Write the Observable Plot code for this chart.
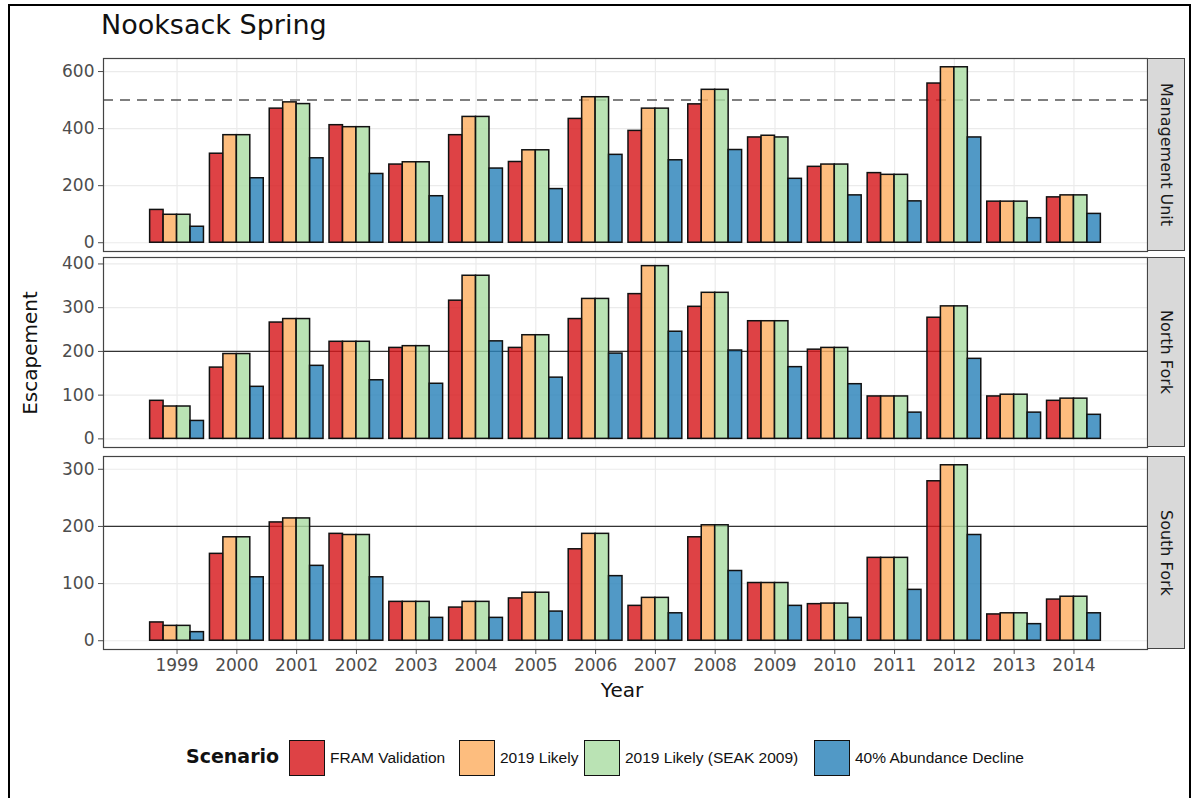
<!DOCTYPE html>
<html><head><meta charset="utf-8">
<script src="https://cdn.jsdelivr.net/npm/d3@7"></script>
<script src="https://cdn.jsdelivr.net/npm/@observablehq/plot@0.6"></script>
<style>
html,body{margin:0;padding:0;background:#fff;}
#root{position:relative;width:1193px;height:798px;overflow:hidden;font-family:"DejaVu Sans",sans-serif;}
#border{position:absolute;left:8px;top:4px;width:1183px;height:800px;border:2px solid #000;box-sizing:border-box;}
.abs{position:absolute;}
.strip{position:absolute;background:#d9d9d9;border:1px solid #444;box-sizing:border-box;display:flex;align-items:center;justify-content:center;}
.strip span{writing-mode:vertical-rl;font-size:16px;color:#1a1a1a;white-space:nowrap;}
.key{position:absolute;width:36px;height:36px;border:1.5px solid #111;box-sizing:border-box;}
.klab{position:absolute;font-family:"Liberation Sans",Arial,sans-serif;font-size:15.5px;color:#111;white-space:nowrap;line-height:36px;}
</style></head><body>
<div id="root">
  <div id="border"></div>
  <div class="abs" style="left:101px;top:9px;font-size:27px;color:#111;">Nooksack Spring</div>
  <div class="abs" style="left:30px;top:353px;transform:translate(-50%,-50%) rotate(-90deg);font-size:20px;color:#111;white-space:nowrap;">Escapement</div>
  <div class="abs" style="left:622px;top:690px;transform:translate(-50%,-50%);font-size:20px;color:#111;">Year</div>
</div>
<script>
const years = [1999,2000,2001,2002,2003,2004,2005,2006,2007,2008,2009,2010,2011,2012,2013,2014];
const scenarios = ["FRAM Validation","2019 Likely","2019 Likely (SEAK 2009)","40% Abundance Decline"];
const scenarioColors = ["#d7191c","#fdae61","#abdda4","#2b83ba"];
const panelNames = ["Management Unit","North Fork","South Fork"];

// Management Unit
const muFram    = [115,312,470,412,274,377,283,434,392,485,369,266,244,558,144,159];
const muLikely  = [98,377,492,405,282,441,324,510,470,536,375,274,238,615,144,166];
const muSeak    = [98,377,486,405,282,441,324,510,470,536,369,274,238,615,144,166];
const muDecline = [56,226,296,241,163,260,188,308,289,325,224,166,145,369,86,101];
// North Fork
const nfFram    = [87,163,266,222,208,316,208,274,331,302,269,204,97,277,97,87];
const nfLikely  = [74,194,274,222,212,373,237,320,395,334,269,208,97,303,101,92];
const nfSeak    = [74,194,274,222,212,373,237,320,395,334,269,208,97,303,101,92];
const nfDecline = [41,119,167,134,126,223,140,195,245,202,164,125,60,183,60,55];
// South Fork
const sfFram    = [32,152,207,187,68,58,74,160,61,181,101,64,145,279,46,72];
const sfLikely  = [26,181,214,185,68,68,84,187,75,202,101,65,145,307,48,77];
const sfSeak    = [26,181,214,185,68,68,84,187,75,202,101,65,145,307,48,77];
const sfDecline = [15,111,131,111,40,40,51,113,48,122,61,40,89,185,29,48];

const panelSeries = [
  [muFram, muLikely, muSeak, muDecline],
  [nfFram, nfLikely, nfSeak, nfDecline],
  [sfFram, sfLikely, sfSeak, sfDecline]
];
const refLines = [500, 200, 200];
const yTicks = [[0,200,400,600],[0,100,200,300,400],[0,100,200,300]];

// layout
const panelTop = [58, 257, 456];
const panelHeight = [193, 190, 193];
const panelLeft = 103, panelRight = 1147, stripWidth = 38;
const xDomain = [1997.77, 2015.23];
const dodge = 0.9;

const root = document.getElementById("root");

panelSeries.forEach((series, p) => {
  const rows = [];
  series.forEach((vals, s) => vals.forEach((v, i) => rows.push({year: years[i], s, scenario: scenarios[s], value: v})));
  const maxV = d3.max(rows, d => d.value);
  const pad = maxV * 0.05;
  const isLast = p === panelSeries.length - 1;
  const w = dodge / scenarios.length;
  const chart = Plot.plot({
    width: panelRight + 46,
    height: panelHeight[p] + (isLast ? 40 : 0),
    marginLeft: panelLeft,
    marginRight: 46,
    marginTop: 0,
    marginBottom: isLast ? 40 : 0,
    style: {fontFamily: "DejaVu Sans, sans-serif", fontSize: "17px", color: "#4d4d4d", background: "transparent", overflow: "visible"},
    x: {domain: xDomain, ticks: years, tickFormat: d => String(d), label: null, axis: isLast ? "bottom" : null, tickSize: 5, tickPadding: 4},
    y: {domain: [-pad, maxV + pad], ticks: yTicks[p], label: null, tickSize: 5, tickPadding: 4},
    color: {domain: scenarios, range: scenarioColors},
    marks: [
      Plot.gridX(years, {stroke: "#ebebeb", strokeOpacity: 1, strokeWidth: 1.2}),
      Plot.gridY(yTicks[p], {stroke: "#ebebeb", strokeOpacity: 1, strokeWidth: 1.2}),
      Plot.ruleY([refLines[p]], {stroke: p === 0 ? "#555" : "#333", strokeWidth: p === 0 ? 1.5 : 1.2, strokeDasharray: p === 0 ? "10,7" : null}),
      Plot.rectY(rows, {
        x1: d => d.year - dodge / 2 + d.s * w,
        x2: d => d.year - dodge / 2 + (d.s + 1) * w,
        y1: 0, y2: "value",
        fill: "scenario", fillOpacity: 0.82,
        stroke: "#111", strokeWidth: 1.5, inset: 0
      }),
      Plot.frame({stroke: "#444", strokeWidth: 1.2})
    ]
  });
  const holder = document.createElement("div");
  holder.className = "abs";
  holder.style.left = "0px";
  holder.style.top = panelTop[p] + "px";
  holder.appendChild(chart);
  root.appendChild(holder);

  const strip = document.createElement("div");
  strip.className = "strip";
  strip.style.left = panelRight + "px";
  strip.style.top = panelTop[p] + "px";
  strip.style.width = stripWidth + "px";
  strip.style.height = panelHeight[p] + "px";
  const sp = document.createElement("span");
  sp.textContent = panelNames[p];
  strip.appendChild(sp);
  root.appendChild(strip);
});

// legend
const legTitle = document.createElement("div");
legTitle.className = "abs";
legTitle.style.cssText = "left:186px;top:745px;font-size:19px;font-weight:bold;color:#111;";
legTitle.textContent = "Scenario";
root.appendChild(legTitle);
const keyX = [289, 459, 584, 814];
scenarios.forEach((s, i) => {
  const k = document.createElement("div");
  k.className = "key";
  k.style.left = keyX[i] + "px";
  k.style.top = "740px";
  const c = d3.color(scenarioColors[i]);
  c.opacity = 0.82;
  k.style.background = c.formatRgb();
  root.appendChild(k);
  const l = document.createElement("div");
  l.className = "klab";
  l.style.left = (keyX[i] + 41) + "px";
  l.style.top = "740px";
  l.textContent = s;
  root.appendChild(l);
});
</script>
</body></html>
